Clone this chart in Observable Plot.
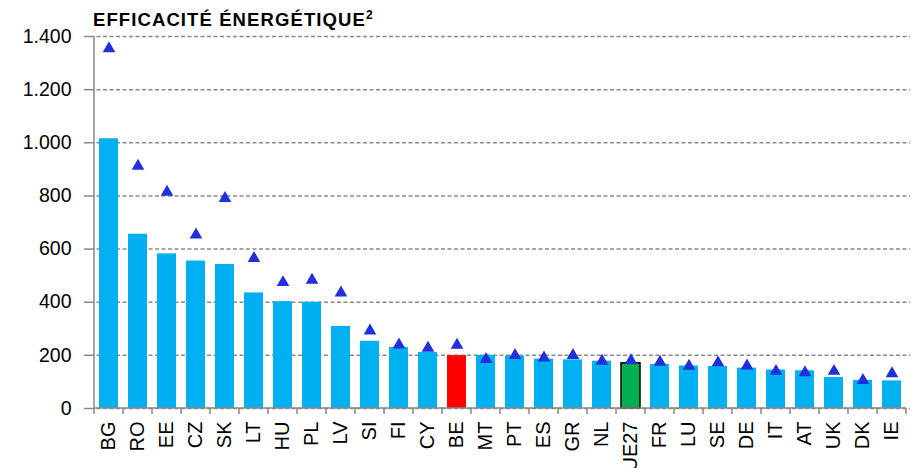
<!DOCTYPE html>
<html><head><meta charset="utf-8">
<script src="https://cdn.jsdelivr.net/npm/d3@7"></script>
<script src="https://cdn.jsdelivr.net/npm/@observablehq/plot@0.6"></script>
<style>
body{margin:0;background:#fff;font-family:"Liberation Sans",Arial,sans-serif;}
#title{height:26px;padding-left:93px;padding-top:11px;box-sizing:border-box;font-weight:bold;font-size:18.5px;line-height:18px;letter-spacing:1.1px;white-space:nowrap;overflow:visible;color:#000;}
#title .sup{font-size:12px;position:relative;top:-7px;margin-left:0px;letter-spacing:0;}
</style></head><body>
<div id="title">EFFICACITÉ ÉNERGÉTIQUE<span class="sup">2</span></div>
<div id="chart"></div>
<script>
const countries = ["BG","RO","EE","CZ","SK","LT","HU","PL","LV","SI","FI","CY","BE","MT","PT","ES","GR","NL","UE27","FR","LU","SE","DE","IT","AT","UK","DK","IE"];
const barValues = [1015,656,582,555,542,435,402,400,309,253,230,211,199,200,197,186,183,178,170,166,160,158,152,145,142,117,106,104];
const markerValues = [1360,918,820,659,797,571,480,489,441,298,245,233,244,191,206,196,206,184,186,180,165,178,166,146,141,146,112,137];
const yTicks = [0,200,400,600,800,1000,1200,1400];
const highlightColors = {BE:"#FF0000", UE27:"#00B050"};

const data = countries.map((c,i)=>({c, v:barValues[i], m:markerValues[i]}));
const fmt = d3.formatLocale({decimal:",", thousands:".", grouping:[3], currency:["","€"]}).format(",");

function axisFrame(index, scales, values, dimensions) {
  const x = scales.x, y = scales.y;
  const n = countries.length;
  const step = x.step ? x.step() : (dimensions.width - dimensions.marginLeft - dimensions.marginRight)/n;
  const bw = x.bandwidth ? x.bandwidth() : step*0.66;
  const off = (step - bw)/2;
  const bounds = countries.map(c => x(c) - off);
  bounds.push(x(countries[n-1]) + bw + off);
  const g = d3.create("svg:g").attr("stroke","#888").attr("fill","none");
  g.selectAll("line.div").data(bounds).join("line").attr("class","div")
    .attr("x1",d=>d).attr("x2",d=>d).attr("y1",y(0)).attr("y2",y(0)+6).attr("stroke-width",1.5);
  g.append("line").attr("x1",bounds[0]).attr("x2",bounds[0]).attr("y1",y(0)).attr("y2",y(1400)).attr("stroke-width",1.5);
  g.append("line").attr("x1",bounds[0]).attr("x2",bounds[n]).attr("y1",y(0)).attr("y2",y(0)).attr("stroke-width",1.5);
  return g.node();
}

const chart = Plot.plot({
  width:914, height:442,
  marginTop:10, marginBottom:60, marginLeft:90, marginRight:4,
  style:{fontFamily:"'Liberation Sans', Arial, sans-serif", color:"#000", background:"#fff", overflow:"visible"},
  x:{domain:countries, paddingInner:0.34, paddingOuter:0.17, label:null},
  y:{domain:[0,1400], label:null},
  marks:[
    Plot.gridY(yTicks,{stroke:"#8a8a8a", strokeOpacity:1, strokeWidth:1.5, strokeDasharray:"4,2.5"}),
    Plot.barY(data,{x:"c", y:"v", fill:d=>highlightColors[d.c] || "#00B0F0", stroke:d=>d.c==="UE27"?"#000":"none", strokeWidth:1.5}),
    Plot.dot(data,{x:"c", y:"m", symbol:"triangle", r:4.7, fill:"#2030DA", stroke:"none", dy:1.5}),
    Plot.axisY(yTicks,{tickSize:6, tickPadding:13, tickFormat:fmt, stroke:"#888", strokeWidth:1.5, fontSize:19.5, fill:"#000", label:null}),
    Plot.axisX({tickSize:0, tickPadding:13, tickRotate:-90, fontSize:20, fill:"#000", label:null}),
    axisFrame
  ]
});
document.getElementById("chart").append(chart);
</script>
</body></html>
